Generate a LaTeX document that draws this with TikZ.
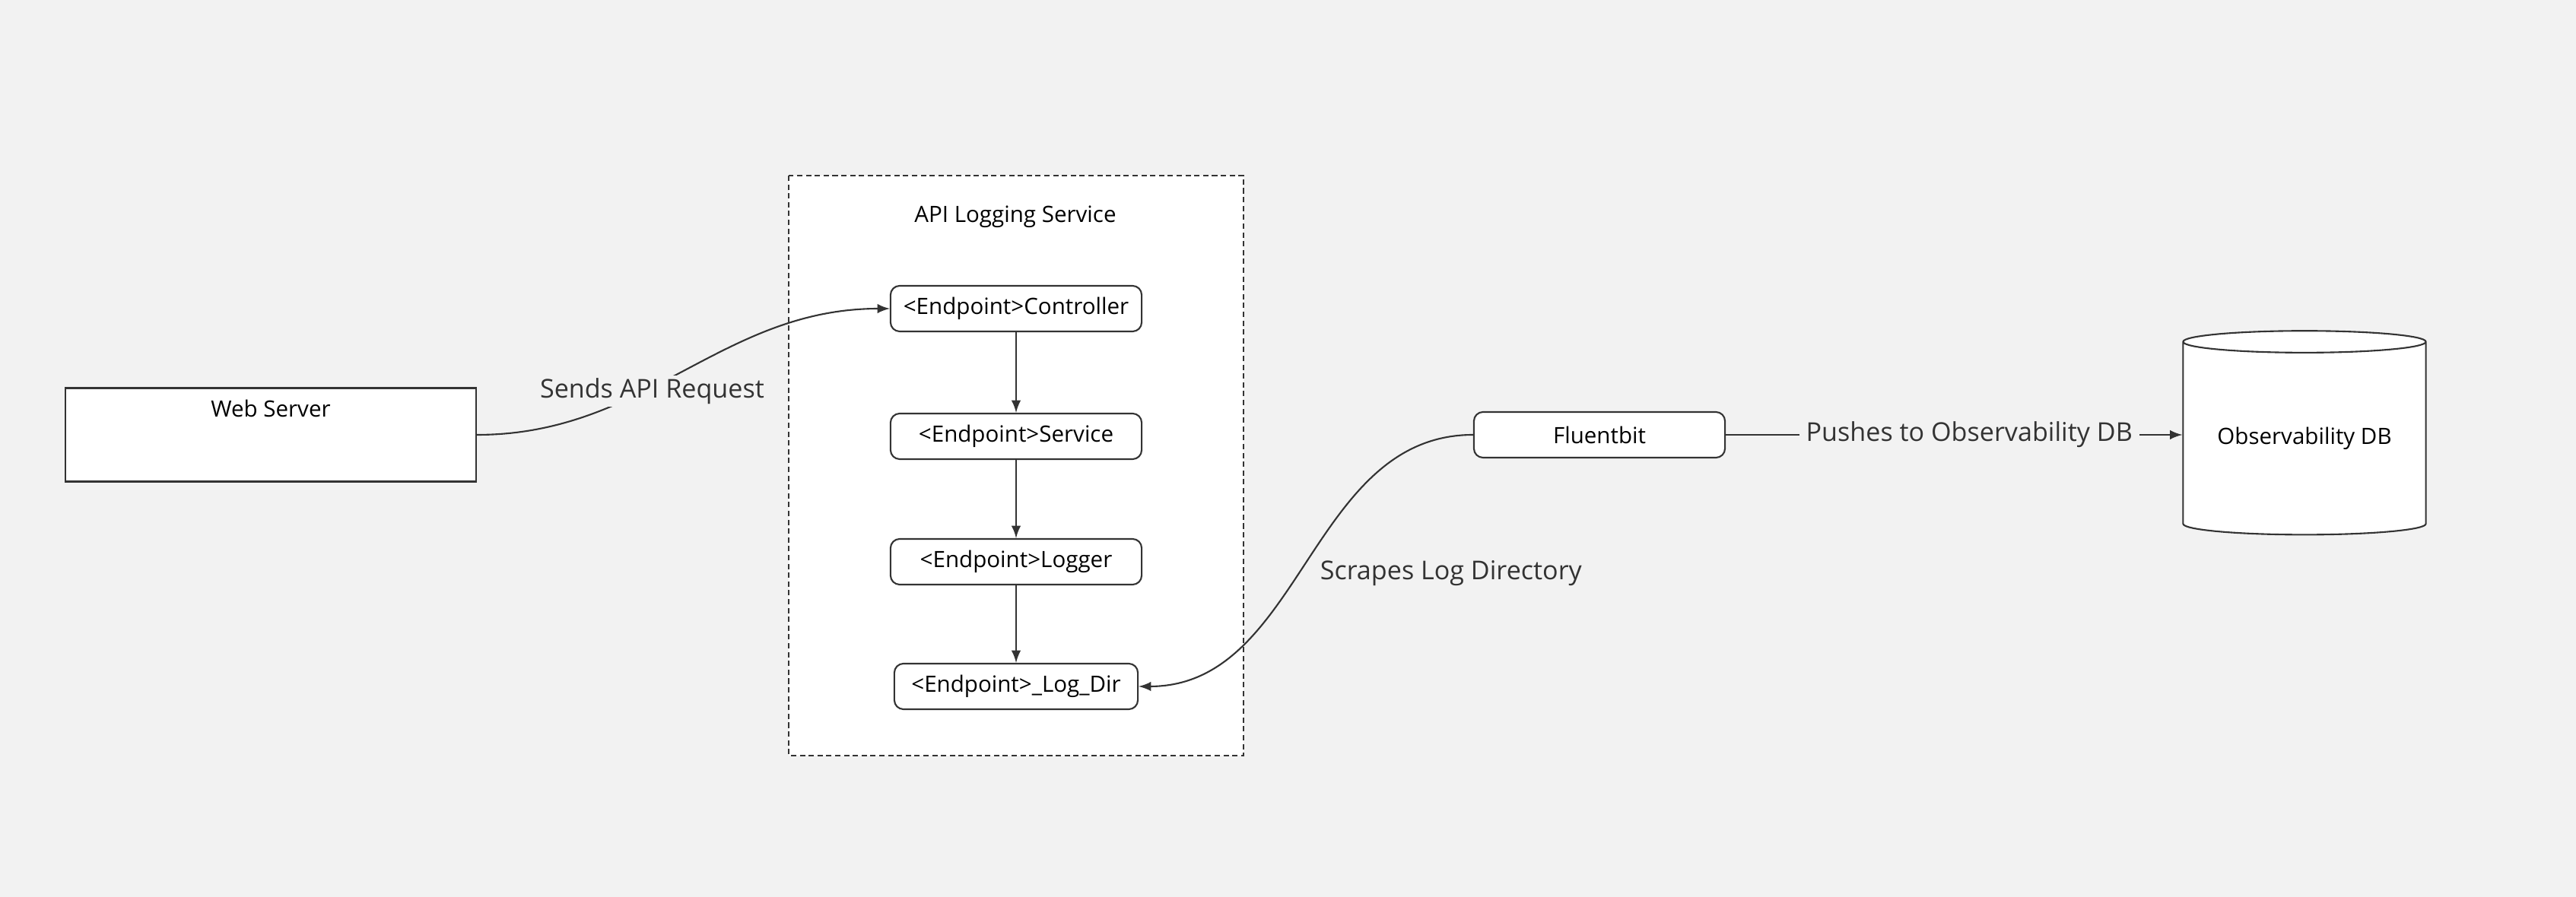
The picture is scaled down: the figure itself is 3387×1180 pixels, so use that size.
\documentclass[tikz,border=0pt]{standalone}
\usepackage{fontspec}
\setmainfont{Open Sans}
\usetikzlibrary{shapes.geometric,arrows}
\definecolor{bg}{HTML}{F2F2F2}
\definecolor{ink}{HTML}{333333}

\begin{document}
\begin{tikzpicture}[>=latex, x=0.01cm, y=-0.01cm, line width=0.6pt,
  comp/.style={draw=ink, fill=white, rounded corners=1.2mm, minimum width=33mm,
    minimum height=6mm, inner sep=0pt, font=\fontsize{8.4}{10}\selectfont},
  lbl/.style={font=\fontsize{9.7}{12}\selectfont, text=ink},
  link/.style={->, draw=ink}]
\fill[bg] (0,0) rectangle (3387,1180);

% API logging service group
\draw[ink, fill=white, dash pattern=on 2pt off 1.3pt] (1037,231) rectangle (1635,994);
\node[font=\fontsize{8.4}{10}\selectfont] (title) at (1335,285) {API Logging Service};

\node[draw=ink, fill=white, minimum width=54mm, minimum height=12.3mm,
  label={[anchor=north, yshift=-0.4mm, font=\fontsize{8.4}{10}\selectfont]north:Web Server}]
  (web) at (356,572) {};

\node[comp] (ctrl) at (1336,406) {<Endpoint>Controller};
\node[comp] (svc) at (1336,574) {<Endpoint>Service};
\node[comp] (log) at (1336,739) {<Endpoint>Logger};
\node[comp, minimum width=32mm] (dir) at (1336,903) {<Endpoint>\_Log\_Dir};

\node[comp] (fluent) at (2103,572) {Fluentbit};
\node[draw=ink, fill=white, cylinder, shape border rotate=90, aspect=0.125,
  minimum width=31.9mm, minimum height=26.8mm, inner sep=0pt,
  font=\fontsize{8.4}{10}\selectfont] (db) at (3030,577) {Observability DB};

\draw[link] (ctrl) -- (svc);
\draw[link] (svc) -- (log);
\draw[link] (log) -- (dir);

\draw[link] (web.east) to[out=0, in=180]
  node[pos=.45, lbl, fill=bg, inner sep=1pt, xshift=-1.7mm, yshift=-1.3mm] {Sends API Request} (ctrl.west);
\draw[link] (fluent.west) to[out=180, in=0]
  node[pos=.5, right, lbl, xshift=0.6mm, yshift=-1.7mm] {Scrapes Log Directory} (dir.east);
\draw[link] (fluent.east) --
  node[lbl, fill=bg, inner xsep=2.5pt, inner ysep=1pt, xshift=2mm] {Pushes to Observability DB} (fluent.east -| db.west);

\end{tikzpicture}
\end{document}
